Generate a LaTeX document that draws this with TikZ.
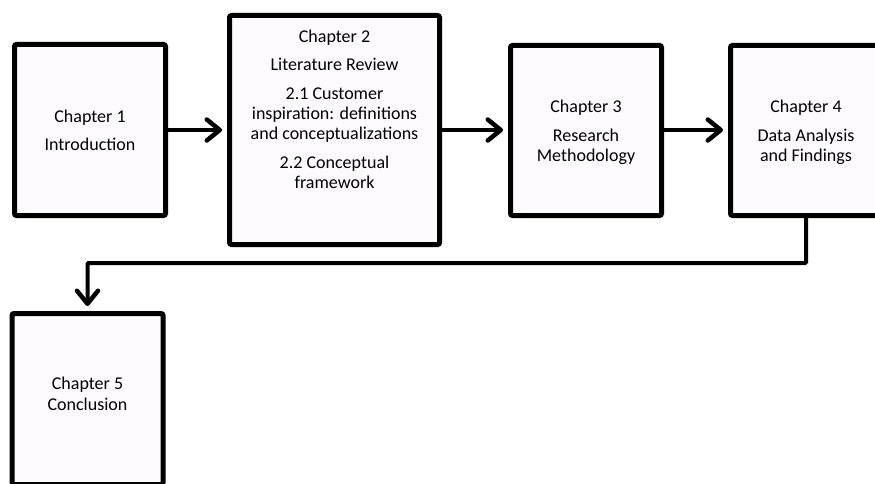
\documentclass[tikz,border=0pt]{standalone}
\usepackage{fontspec}
\setmainfont{Carlito}
\usetikzlibrary{arrows.meta,shadows}
\definecolor{boxfill}{HTML}{FDFBFD}
\tikzset{
	chapbox/.style={draw=black, line width=5pt, fill=boxfill, rounded corners=2pt,
		minimum width=151pt, minimum height=171pt, inner sep=0pt, align=center,
		font=\fontsize{18}{20}\selectfont,
		drop shadow={shadow xshift=1.5pt, shadow yshift=-1.5pt, opacity=0.25}},
	chaptext/.style={align=center, font=\fontsize{18}{20}\selectfont},
	flow/.style={line width=4pt, -{Straight Barb[length=13pt, width=21pt, line width=4.5pt, round]}, shorten >=5pt}
}
\begin{document}
\begin{tikzpicture}[x=1pt, y=-1pt]
%		\draw [help lines, step=25] (0,0) grid (875,484);
		\useasboundingbox (0,0) rectangle (875,484);
		\clip (0,0) rectangle (875,484);
		\node [chapbox] (ch1) at (90,130) {Chapter 1\\[8pt]Introduction};
		\node [chapbox, minimum width=210pt, minimum height=229pt,
			label={[chaptext, yshift=21pt]center:Chapter 2\\[8pt]Literature Review\\[9pt]2.1 Customer\\inspiration: definitions\\and conceptualizations\\[9pt]2.2 Conceptual\\framework}] (ch2) at (334.5,130) {};
		\node [chapbox, minimum height=170pt,
			label={[chaptext, yshift=-2pt]center:Chapter 3\\[9pt]Research\\Methodology}] (ch3) at (586,130.5) {};
		\node [chapbox, minimum height=170pt,
			label={[chaptext, yshift=-2pt]center:Chapter 4\\[9pt]Data Analysis\\and Findings}] (ch4) at (806,130.5) {};
		\node [chapbox,
			label={[chaptext, yshift=5.5pt]center:Chapter 5\\[1pt]Conclusion}] (ch5) at (87.5,399) {};
		\draw [flow] (ch1.east |- 0,130) -- (ch2.west |- 0,130);
		\draw [flow] (ch2.east |- 0,130) -- (ch3.west |- 0,130);
		\draw [flow] (ch3.east |- 0,130) -- (ch4.west |- 0,130);
		\draw [flow, rounded corners=1pt] (ch4.south) -- ++(0,45) -| (ch5.north);
	\end{tikzpicture}
\end{document}
